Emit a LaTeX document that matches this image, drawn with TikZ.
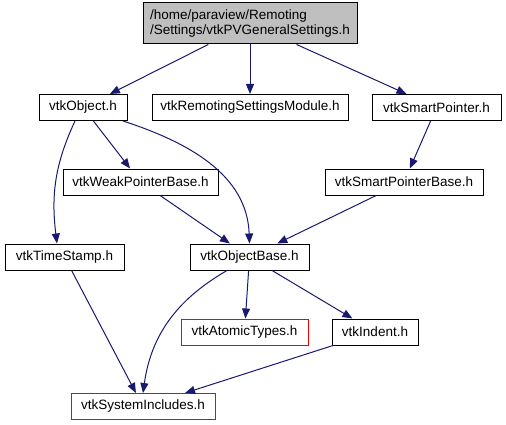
\documentclass[tikz,border=0pt]{standalone}
\usepackage{fontspec}
\setmainfont{Liberation Sans}
\usetikzlibrary{positioning,arrows.meta}
\definecolor{edgeblue}{RGB}{25, 25, 112}
\definecolor{rootgrey}{RGB}{191, 191, 191}
\definecolor{missred}{RGB}{255, 0, 0}

\begin{document}
\begin{tikzpicture}[x=1pt, y=-1pt, every node/.style={font=\fontsize{13.5}{15}\selectfont},
  hfile/.style={draw, line width=1pt, minimum height=26pt, inner sep=0pt},
  missing/.style={hfile, color=missred, text=black},
  dep/.style={draw=edgeblue, line width=1pt, -{Triangle[length=10pt, width=8pt]}}]
  \useasboundingbox (0,0) rectangle (506,425);

  \node[hfile, fill=rootgrey, minimum width=214pt, minimum height=41pt, align=left] (root) at (250,23.5) {/home/paraview/Remoting\\/Settings/vtkPVGeneralSettings.h};

  \node[hfile, minimum width=88pt] (obj) at (83,107.5) {vtkObject.h};
  \node[hfile, minimum width=196pt] (mod) at (250,107.5) {vtkRemotingSettingsModule.h};
  \node[hfile, minimum width=129pt] (sp) at (436.5,107.5) {vtkSmartPointer.h};

  \node[hfile, minimum width=155pt] (wpb) at (140.5,182) {vtkWeakPointerBase.h};
  \node[hfile, minimum width=158pt] (spb) at (404,182) {vtkSmartPointerBase.h};

  \node[hfile, minimum width=119pt] (ts) at (64.5,257) {vtkTimeStamp.h};
  \node[hfile, minimum width=119pt] (ob) at (249.5,257) {vtkObjectBase.h};

  \node[missing, minimum width=127pt] (at) at (244.5,332) {vtkAtomicTypes.h};
  \node[hfile, minimum width=86pt] (ind) at (375,332) {vtkIndent.h};

  \node[missing, minimum width=144pt] (sys) at (143,406.5) {vtkSystemIncludes.h};

  \draw[dep] (root) -- (obj);
  \draw[dep] (root) -- (mod);
  \draw[dep] (root) -- (sp);
  \draw[dep] ([xshift=-8pt]obj.south) to[out=-115, in=97] ([xshift=-7.5pt]ts.north);
  \draw[dep] (obj) -- (wpb);
  \draw[dep] ([xshift=40pt]obj.south) to[out=-18, in=92] (ob.north);
  \draw[dep] (sp) -- (spb);
  \draw[dep] (wpb) -- (ob);
  \draw[dep] (spb) -- (ob);
  \draw[dep] (ob) -- (at);
  \draw[dep] (ob) -- (ind);
  \draw[dep] ([xshift=-22.5pt]ob.south) to[out=-150, in=82] (sys.north);
  \draw[dep] (ts) -- (sys);
  \draw[dep] (ind) -- (sys);
\end{tikzpicture}
\end{document}
